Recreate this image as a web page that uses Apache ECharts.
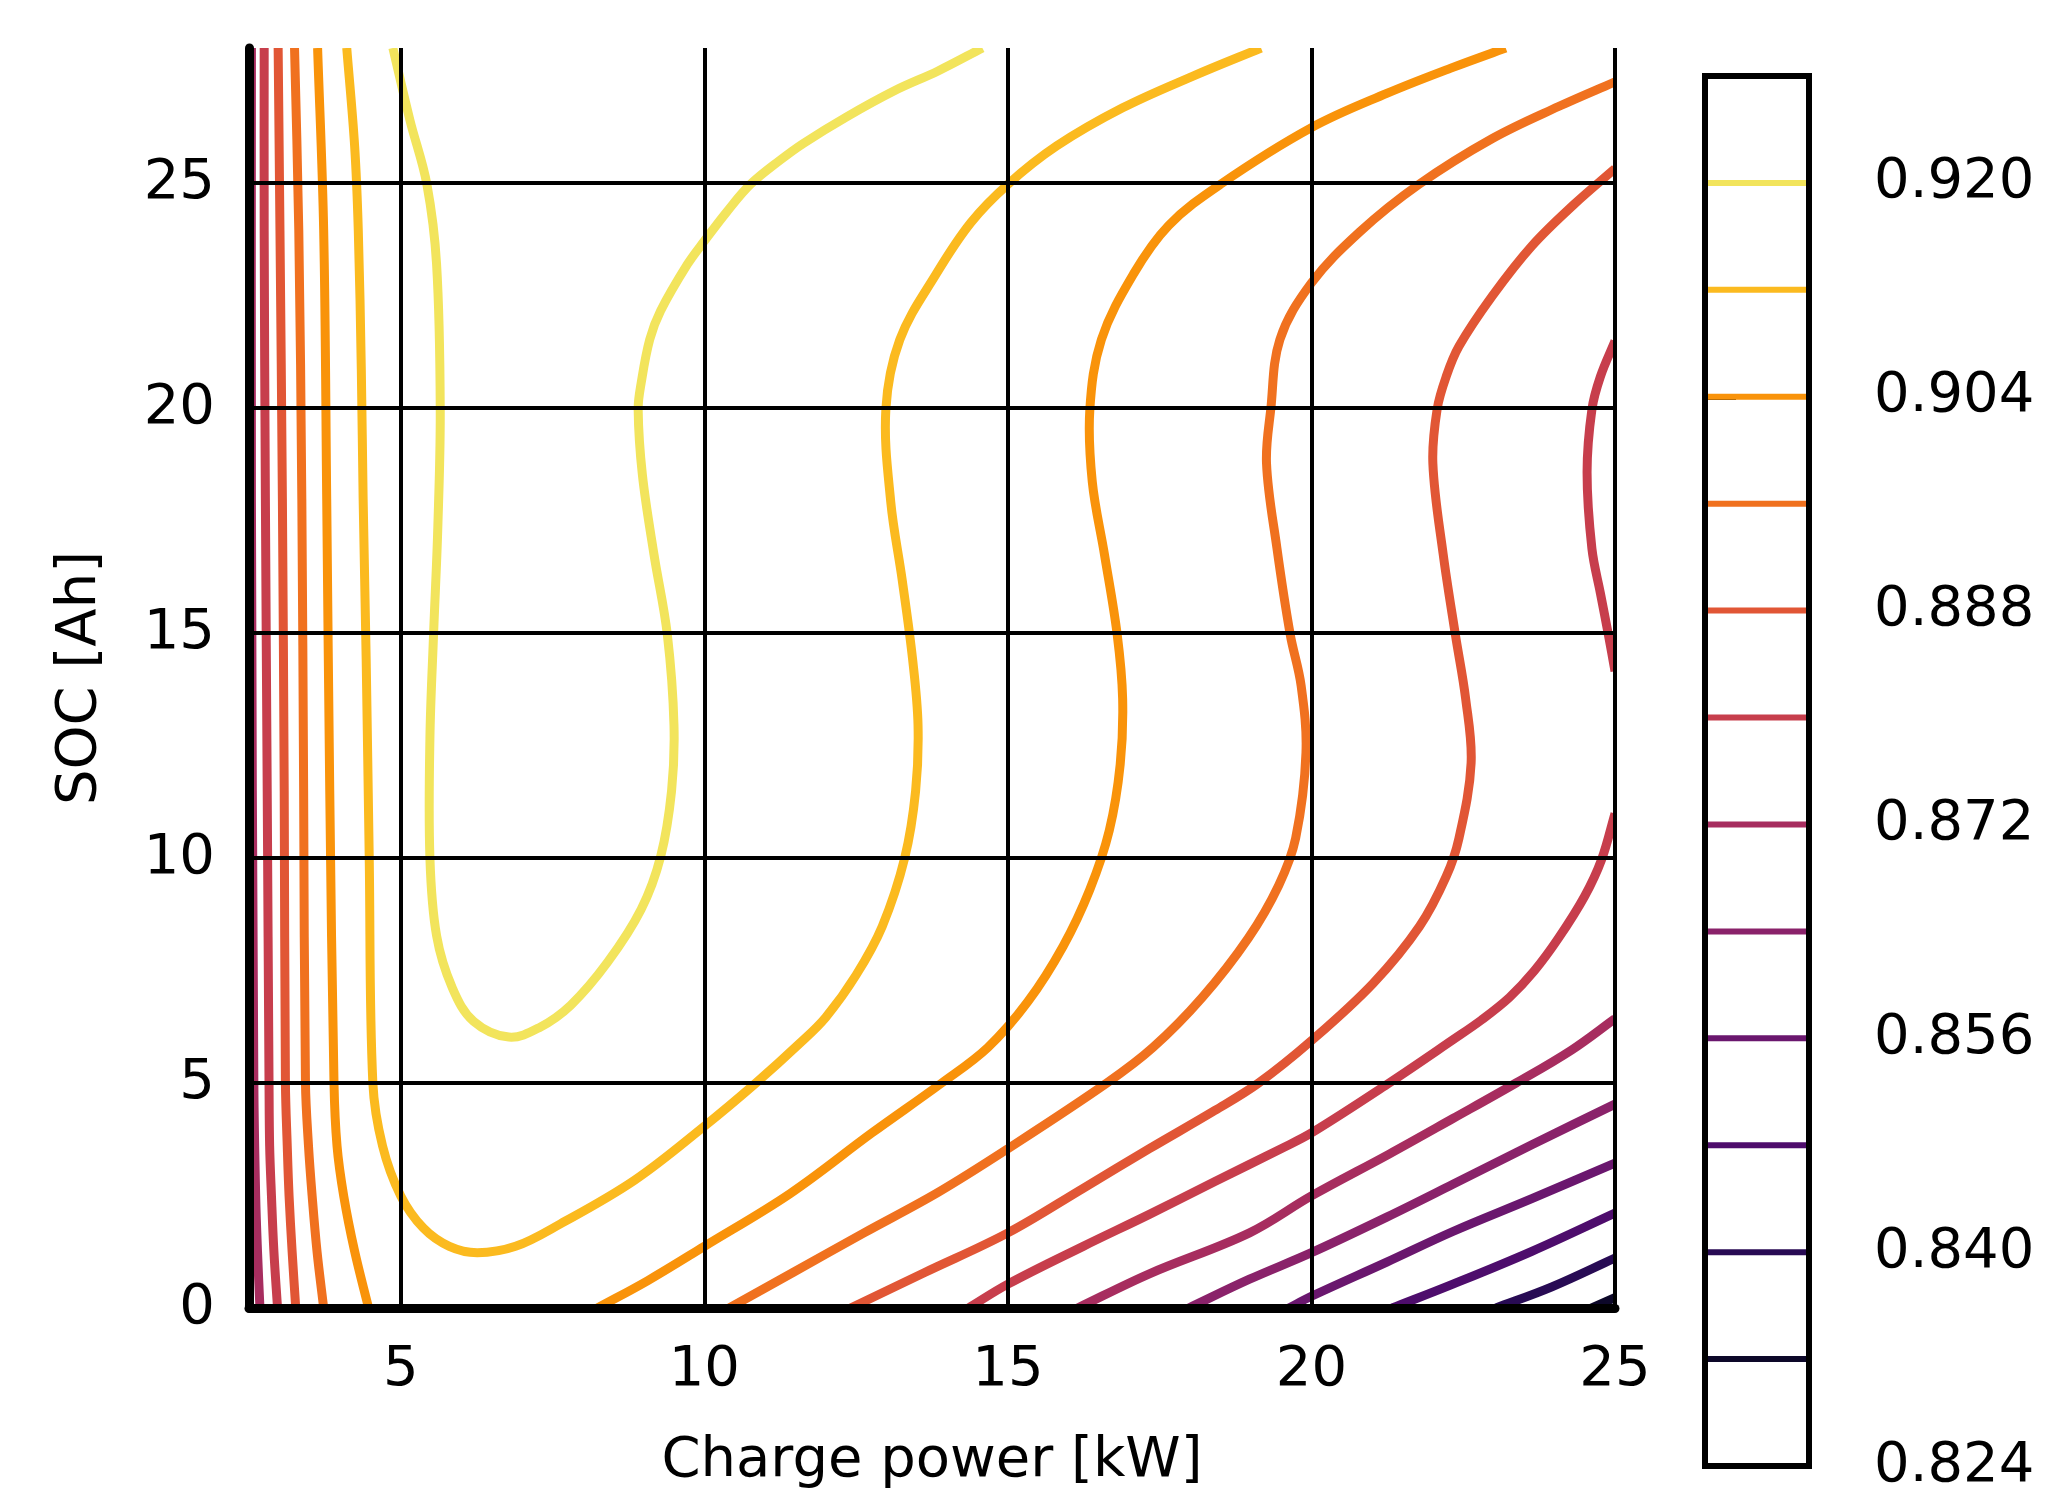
<!DOCTYPE html>
<html>
<head>
<meta charset="utf-8">
<script src="https://cdn.jsdelivr.net/npm/echarts@6/dist/echarts.min.js"></script>
<style>
html, body { margin: 0; padding: 0; background: #fff; }
#chart { width: 2072px; height: 1494px; }
</style>
</head>
<body>
<div id="chart"></div>
<script>
'use strict';

// contour levels and their colours (inferno)
var levels = [0.824, 0.832, 0.840, 0.848, 0.856, 0.864, 0.872, 0.880, 0.888, 0.896, 0.904, 0.912, 0.920, 0.928];
var levelColors = ['#000004', '#0d0829', '#280b54', '#4e0d6c', '#6a176e', '#8a226a', '#a72d5f', '#c73e4c',
  '#e15635', '#f0711f', '#f9930a', '#fbba1f', '#f2e45c', '#fcffa4'];

var xTicks = [5, 10, 15, 20, 25];
var yTicks = [0, 5, 10, 15, 20, 25];
var barTicks = [0.824, 0.840, 0.856, 0.872, 0.888, 0.904, 0.920];

// contour lines, points are [charge power kW, SOC Ah]
var c920 = [[4.87, 28.0], [5.15, 26.40], [5.43, 24.97], [5.59, 23.19], [5.65, 19.97], [5.61, 17.34], [5.54, 14.97],
  [5.48, 12.66], [5.48, 10.0], [5.59, 8.27], [5.85, 7.11], [6.20, 6.37], [6.78, 6.02], [7.28, 6.23], [7.80, 6.73],
  [8.41, 7.69], [8.96, 8.86], [9.28, 10.03], [9.46, 11.49], [9.50, 12.95], [9.39, 14.97], [9.17, 16.75],
  [8.98, 18.51], [8.91, 19.97], [8.96, 20.56], [9.10, 21.52], [9.28, 22.16], [9.72, 23.19], [10.0, 23.71],
  [10.37, 24.36], [10.76, 24.97], [11.24, 25.50], [11.63, 25.88], [12.33, 26.46], [13.13, 27.05], [13.85, 27.49],
  [14.58, 28.0]];
var c912 = [[4.11, 28.0], [4.24, 25.82], [4.30, 23.95], [4.35, 20.85], [4.38, 17.98], [4.43, 14.42], [4.48, 10.03],
  [4.54, 5.0], [4.70, 3.60], [5.0, 2.49], [5.37, 1.78], [5.80, 1.37], [6.26, 1.23], [6.89, 1.37], [7.63, 1.87],
  [8.85, 2.84], [10.0, 4.04], [10.85, 5.0], [11.57, 5.88], [12.0, 6.46], [12.5, 7.40], [12.93, 8.48], [13.30, 10.0],
  [13.48, 11.49], [13.52, 12.95], [13.43, 14.42], [13.26, 16.17], [13.07, 17.92], [12.99, 19.97], [13.22, 21.52],
  [13.82, 22.98], [14.39, 24.12], [15.0, 24.97], [15.80, 25.82], [16.89, 26.67], [18.04, 27.37], [19.17, 28.0]];
var c904Left = [[3.63, 28.0], [3.73, 23.95], [3.78, 17.98], [3.83, 11.49], [3.90, 5.0], [3.95, 3.60], [4.06, 2.49],
  [4.24, 1.26], [4.47, 0]];
var c904Right = [[8.24, 0], [9.07, 0.61], [10.0, 1.37], [11.41, 2.54], [12.76, 3.89], [13.91, 5.0], [14.67, 5.79],
  [15.33, 6.81], [15.91, 8.04], [16.35, 9.30], [16.67, 10.61], [16.85, 12.08], [16.89, 13.54], [16.80, 14.97],
  [16.59, 16.75], [16.39, 18.36], [16.35, 19.97], [16.54, 21.52], [17.07, 22.98], [17.65, 24.06], [18.5, 24.97],
  [20.0, 26.23], [21.24, 26.99], [22.33, 27.57], [23.2, 28.0]];
var c896Left = [[3.25, 28.0], [3.32, 23.95], [3.37, 17.98], [3.40, 11.49], [3.43, 5.0], [3.48, 3.60], [3.54, 2.49],
  [3.62, 1.26], [3.73, 0]];
var c896Right = [[10.41, 0], [11.46, 0.79], [12.63, 1.67], [13.85, 2.57], [15.0, 3.54], [16.63, 5.0], [17.39, 5.79],
  [18.20, 6.90], [18.96, 8.22], [19.46, 9.39], [19.74, 10.44], [19.91, 12.34], [19.83, 13.83], [19.65, 14.97],
  [19.43, 16.90], [19.26, 18.77], [19.33, 19.97], [19.48, 21.52], [20.0, 22.78], [20.80, 23.92], [21.77, 24.97],
  [22.98, 25.99], [24.07, 26.70], [25.0, 27.25]];
var c888Left = [[2.98, 28.0], [3.01, 23.95], [3.05, 17.98], [3.08, 11.49], [3.10, 5.0], [3.13, 3.60], [3.16, 2.49],
  [3.21, 1.26], [3.27, 0]];
var c888Right = [[12.41, 0], [13.63, 0.79], [15.0, 1.67], [16.24, 2.66], [17.33, 3.54], [18.41, 4.39], [19.13, 5.0],
  [20.0, 5.94], [21.02, 7.22], [21.78, 8.48], [22.22, 9.59], [22.43, 10.44], [22.63, 12.11], [22.54, 13.54],
  [22.37, 14.97], [22.17, 16.75], [22.0, 18.77], [22.07, 19.97], [22.22, 20.70], [22.43, 21.37], [22.98, 22.49],
  [23.63, 23.60], [24.33, 24.53], [25.0, 25.32]];
var c880Left = [[2.75, 28.0], [2.75, 23.95], [2.77, 17.98], [2.80, 11.49], [2.83, 5.0], [2.84, 3.60], [2.87, 2.49],
  [2.91, 1.26], [2.97, 0]];
var c880Right = [[14.35, 0], [15.0, 0.53], [16.24, 1.37], [17.33, 2.08], [18.41, 2.81], [19.5, 3.54],
  [20.0, 3.89], [21.28, 5.0], [22.33, 5.96], [22.80, 6.40], [23.26, 6.90], [23.67, 7.49], [24.07, 8.22],
  [24.5, 9.15], [24.78, 9.97], [25.0, 10.99]];
var c880Bulge = [[25.0, 21.49], [24.76, 20.70], [24.62, 19.97], [24.54, 18.57], [24.62, 16.87], [24.76, 15.88],
  [24.89, 14.97], [25.0, 14.15]];
var c872Left = [[2.54, 28.0], [2.54, 17.98], [2.58, 5.0], [2.61, 2.49], [2.64, 1.26], [2.68, 0]];
var c872Right = [[16.15, 0], [17.33, 0.76], [18.98, 1.67], [20.0, 2.49], [21.28, 3.42], [22.33, 4.21], [23.37, 5.0],
  [24.28, 5.73], [25.0, 6.43]];
var c864 = [[17.98, 0], [18.98, 0.64], [20.0, 1.23], [21.24, 2.02], [22.33, 2.75], [23.63, 3.63], [25.0, 4.53]];
var c856 = [[19.63, 0], [20.0, 0.26], [21.24, 1.02], [22.33, 1.70], [23.63, 2.43], [25.0, 3.22]];
var c848 = [[21.33, 0], [22.33, 0.53], [23.63, 1.26], [25.0, 2.11]];
var c840 = [[23.04, 0], [23.96, 0.47], [25.0, 1.11]];
var c832 = [[24.61, 0], [25.0, 0.23]];

var contours = [
  [0.920, c920], [0.912, c912], [0.904, c904Left], [0.904, c904Right],
  [0.896, c896Left], [0.896, c896Right], [0.888, c888Left], [0.888, c888Right],
  [0.880, c880Left], [0.880, c880Right], [0.880, c880Bulge], [0.872, c872Left], [0.872, c872Right],
  [0.864, c864], [0.856, c856], [0.848, c848], [0.840, c840], [0.832, c832]
];

var FONT = 'DejaVu Sans';
var chart = echarts.init(document.getElementById('chart'));

function colorOf(level) {
  return levelColors[levels.indexOf(level)];
}

// smooth svg path through pixel points (tangent = next - prev, no clamping)
function smoothPath(pts) {
  var s = 0.36;
  var n = pts.length;
  var cps = pts.map(function (p, i) {
    var prev = pts[i - 1] || p;
    var next = pts[i + 1] || p;
    var vx = next[0] - prev[0], vy = next[1] - prev[1];
    var lp = Math.hypot(p[0] - prev[0], p[1] - prev[1]);
    var ln = Math.hypot(next[0] - p[0], next[1] - p[1]);
    var sum = lp + ln || 1;
    return {
      inx: p[0] - vx * s * lp / sum, iny: p[1] - vy * s * lp / sum,
      outx: p[0] + vx * s * ln / sum, outy: p[1] + vy * s * ln / sum
    };
  });
  var d = 'M' + pts[0][0] + ' ' + pts[0][1];
  for (var i = 0; i < n - 1; i++) {
    d += ' C' + cps[i].outx + ' ' + cps[i].outy + ' ' + cps[i + 1].inx + ' ' + cps[i + 1].iny +
      ' ' + pts[i + 1][0] + ' ' + pts[i + 1][1];
  }
  return d;
}

function contourSeries(level, data) {
  return {
    type: 'custom',
    coordinateSystem: 'cartesian2d',
    xAxisIndex: 0,
    yAxisIndex: 0,
    data: data,
    encode: { x: 0, y: 1 },
    clip: true,
    silent: true,
    z: 3,
    renderItem: function (params, api) {
      if (params.dataIndex !== 0) return null;
      var pts = data.map(function (p) { return api.coord(p); });
      return {
        type: 'path',
        shape: { pathData: smoothPath(pts) },
        style: { fill: null, stroke: colorOf(level), lineWidth: 9, lineCap: 'butt', lineJoin: 'round' }
      };
    }
  };
}

var series = [];

// grid lines drawn through the axes' scales
var gridMarks = xTicks.map(function (v) { return { xAxis: v }; })
  .concat(yTicks.filter(function (v) { return v > 0; }).map(function (v) { return { yAxis: v }; }));
series.push({
  type: 'line',
  data: [],
  silent: true,
  z: 1,
  markLine: {
    silent: true,
    symbol: ['none', 'none'],
    label: { show: false },
    animation: false,
    lineStyle: { color: '#000', width: 4, type: 'solid' },
    data: gridMarks
  }
});

contours.forEach(function (c) {
  series.push(contourSeries(c[0], c[1]));
});

// colour bar lines
levels.filter(function (v) { return v < 0.928; }).forEach(function (lev) {
  series.push({
    type: 'line',
    xAxisIndex: 1,
    yAxisIndex: 1,
    data: [[0, lev], [1, lev]],
    symbol: 'none',
    silent: true,
    z: 3,
    lineStyle: { color: colorOf(lev), width: 6 }
  });
});

var tickText = { color: '#000', fontSize: 56, fontFamily: FONT };

var option = {
  animation: false,
  backgroundColor: '#fff',
  textStyle: { fontFamily: FONT },
  grid: [
    { left: 249, top: 48, width: 1366, height: 1264 },
    { left: 1705, top: 76, width: 104, height: 1399, show: true, borderColor: '#000', borderWidth: 6,
      backgroundColor: 'transparent', z: 4 }
  ],
  xAxis: [
    {
      type: 'value', gridIndex: 0, min: 2.5, max: 25, z: 5,
      axisLine: { show: true, onZero: false, lineStyle: { color: '#000', width: 9 } },
      axisTick: { show: false },
      splitLine: { show: false },
      axisLabel: Object.assign({ customValues: xTicks, margin: 34 }, tickText),
      name: 'Charge power [kW]',
      nameLocation: 'middle',
      nameGap: 125,
      nameTextStyle: tickText
    },
    { type: 'value', gridIndex: 1, min: 0, max: 1, show: false }
  ],
  yAxis: [
    {
      type: 'value', gridIndex: 0, min: 0, max: 28, z: 5,
      axisLine: { show: true, onZero: false, lineStyle: { color: '#000', width: 9 } },
      axisTick: { show: false },
      splitLine: { show: false },
      axisLabel: Object.assign({ customValues: yTicks, margin: 34, padding: [8, 0, 0, 0] }, tickText),
      name: 'SOC [Ah]',
      nameLocation: 'middle',
      nameRotate: 90,
      nameGap: 141,
      nameTextStyle: tickText
    },
    {
      type: 'value', gridIndex: 1, min: 0.824, max: 0.928, position: 'right',
      axisLine: { show: false },
      axisTick: { show: true, customValues: barTicks, length: 31, lineStyle: { color: '#000', width: 5 } },
      splitLine: { show: false },
      axisLabel: Object.assign({
        customValues: barTicks, margin: 65, padding: [10, 0, 0, 0],
        formatter: function (v) { return v.toFixed(3); }
      }, tickText)
    }
  ],
  series: series
};

chart.setOption(option);
</script>
</body>
</html>
